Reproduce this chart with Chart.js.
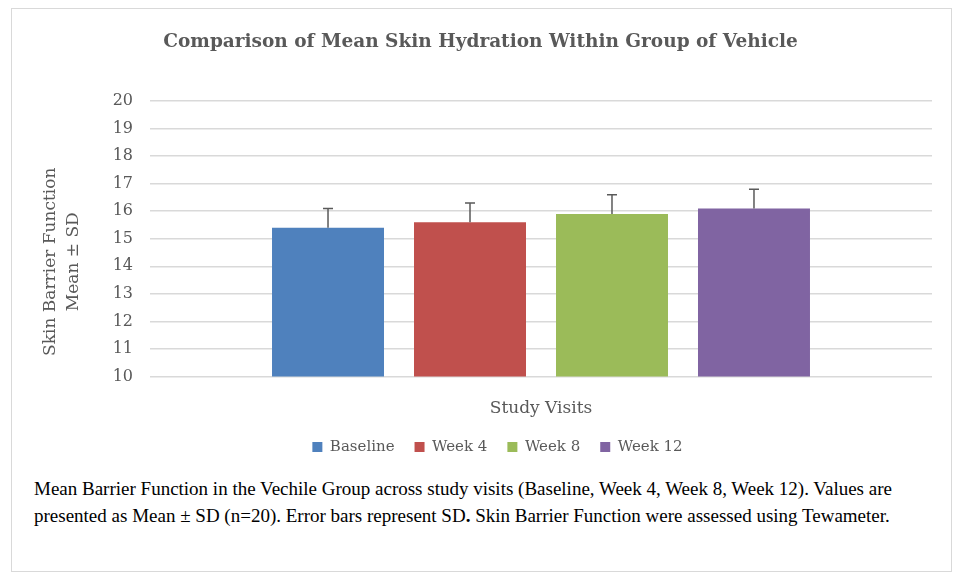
<!DOCTYPE html>
<html><head><meta charset="utf-8">
<script src="https://cdn.jsdelivr.net/npm/chart.js@4.4.1/dist/chart.umd.min.js"></script>
<style>
html,body{margin:0;padding:0;background:#fff;}
#frame{position:absolute;left:11px;top:8px;width:941px;height:564px;border:1px solid #d9d9d9;box-sizing:border-box;}
#c{position:absolute;left:0;top:0;}
#caption{position:absolute;left:34px;top:475px;font-family:"Liberation Serif","Times New Roman",serif;font-size:19px;line-height:27px;color:#000;white-space:nowrap;}
</style></head><body>
<div id="frame"></div>
<canvas id="c" width="963" height="470"></canvas>
<div id="caption">Mean Barrier Function in the Vechile Group across study visits (Baseline, Week 4, Week 8, Week 12). Values are<br>presented as Mean ± SD (n=20). Error bars represent SD<b>.</b> Skin Barrier Function were assessed using Tewameter.</div>
<script>
const categories = ['Vehicle'];
const visits = ['Baseline', 'Week 4', 'Week 8', 'Week 12'];
const meanValues = [15.4, 15.6, 15.9, 16.1];
const sdValues = [0.7, 0.7, 0.7, 0.7];
const barColors = ['#4F81BD', '#C0504D', '#9BBB59', '#8064A2'];
const yMin = 10, yMax = 20, yStep = 1;
const chartTitle = 'Comparison of Mean Skin Hydration Within Group of Vehicle';
const xTitle = 'Study Visits';
const yTitle = ['Skin Barrier Function', 'Mean ± SD'];

const FONT = "'DejaVu Serif', serif";
const GREY = '#595959';
const Y_TITLE_SHIFT = 23;

const errorBars = {
  id: 'errorBars',
  afterDatasetsDraw(chart) {
    const ctx = chart.ctx, ys = chart.scales.y;
    ctx.save();
    ctx.strokeStyle = '#5a5a5a';
    ctx.lineWidth = 1.5;
    chart.data.datasets.forEach((ds, i) => {
      const meta = chart.getDatasetMeta(i);
      meta.data.forEach((bar, j) => {
        const top = ys.getPixelForValue(ds.data[j] + ds.sd[j]);
        ctx.beginPath();
        ctx.moveTo(bar.x, bar.y);
        ctx.lineTo(bar.x, top);
        ctx.moveTo(bar.x - 5, top);
        ctx.lineTo(bar.x + 5, top);
        ctx.stroke();
      });
    });
    ctx.restore();
  }
};

const layoutTweaks = {
  id: 'layoutTweaks',
  afterLayout(chart) {
    const lg = chart.legend; lg.left += 31.5; lg.right += 31.5;
    const tb = chart.titleBlock; tb.left += 14.5; tb.right += 14.5;
  },
  beforeDraw(chart) {
    const ys = chart.scales.y; ys.top += Y_TITLE_SHIFT; ys.bottom += Y_TITLE_SHIFT;
  },
  beforeDatasetsDraw(chart) {
    const ys = chart.scales.y; ys.top -= Y_TITLE_SHIFT; ys.bottom -= Y_TITLE_SHIFT;
  }
};

new Chart(document.getElementById('c'), {
  type: 'bar',
  data: {
    labels: categories,
    datasets: visits.map((v, i) => ({
      label: v,
      data: [meanValues[i]],
      sd: [sdValues[i]],
      backgroundColor: barColors[i],
      borderWidth: 0,
      categoryPercentage: 0.7263,
      barPercentage: 0.7887
    }))
  },
  options: {
    responsive: false,
    animation: false,
    devicePixelRatio: 1,
    layout: { padding: { left: 0, right: 31, top: 0, bottom: 5.5 } },
    plugins: {
      tooltip: { enabled: false },
      title: {
        display: true, text: chartTitle, color: GREY,
        font: { family: FONT, size: 18.5, weight: 'bold', lineHeight: 1.2 },
        padding: { top: 31, bottom: 47.8 }
      },
      legend: {
        position: 'bottom',
        labels: {
          color: GREY, boxWidth: 10, boxHeight: 10, padding: 20,
          font: { family: FONT, size: 15 }
        }
      }
    },
    scales: {
      x: {
        ticks: { display: false },
        grid: { display: false, drawTicks: false },
        border: { display: false },
        title: { display: true, text: xTitle, color: GREY, font: { family: FONT, size: 17, lineHeight: 1.2 }, padding: { top: 0, bottom: 0.5 } },
        afterFit(s) { s.height = 43; }
      },
      y: {
        min: yMin, max: yMax,
        ticks: { stepSize: yStep, color: GREY, padding: 17, font: { family: FONT, size: 16 } },
        grid: { color: '#d9d9d9', lineWidth: 1.5, drawTicks: false },
        border: { display: false },
        title: { display: true, text: yTitle, color: GREY, font: { family: FONT, size: 17, lineHeight: 1.35 }, padding: { top: 39.5, bottom: 0 } },
        afterFit(s) { s.width = 150; }
      }
    }
  },
  plugins: [errorBars, layoutTweaks]
});
</script>
</body></html>
